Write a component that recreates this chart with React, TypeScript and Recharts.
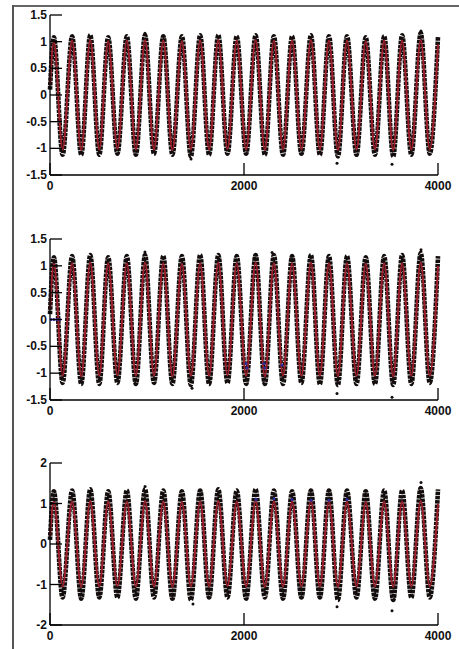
import { ComposedChart, Line, Scatter, XAxis, YAxis } from "recharts";

// x positions of the wave crests and troughs (same in all panels)
const peakX = [40, 228, 415, 600, 792, 980, 1168, 1360, 1548, 1735, 1925, 2120, 2308, 2496, 2690, 2876, 3062, 3255, 3445, 3630, 3822];
const troughX = [130, 322, 508, 695, 885, 1072, 1262, 1452, 1640, 1830, 2022, 2215, 2402, 2592, 2782, 2968, 3160, 3350, 3538, 3725, 3915];
const xTicks = [0, 2000, 4000];

// panel 1
const fit1Peaks = [1.0, 1.02, 1.03, 1.01, 1.02, 1.03, 1.02, 1.01, 1.02, 1.03, 1.02, 1.03, 1.02, 1.02, 1.03, 1.02, 1.02, 1.01, 1.02, 1.02, 1.03];
const fit1Troughs = [-1.02, -1.03, -1.02, -1.01, -1.02, -1.02, -1.03, -1.02, -1.02, -1.01, -1.02, -1.03, -1.02, -1.02, -1.02, -1.03, -1.02, -1.02, -1.03, -1.02, -1.02];
const dots1Peaks = [1.08, 1.1, 1.12, 1.08, 1.1, 1.12, 1.1, 1.1, 1.12, 1.12, 1.1, 1.12, 1.1, 1.1, 1.12, 1.1, 1.1, 1.08, 1.1, 1.12, 1.16];
const dots1Troughs = [-1.12, -1.12, -1.12, -1.1, -1.12, -1.1, -1.12, -1.15, -1.12, -1.1, -1.1, -1.12, -1.12, -1.1, -1.12, -1.15, -1.12, -1.12, -1.15, -1.12, -1.1];
const ends1 = { fitStart: 0.2, fitEnd: 0.95, dotStart: 0.1, dotEnd: 1.1 };
const outliers1 = [
  { x: 979, y: 1.16 }, { x: 1454, y: -1.2 }, { x: 2959, y: -1.28 }, { x: 3526, y: -1.3 }, { x: 3825, y: 1.2 },
];
const ticks1 = [-1.5, -1, -0.5, 0, 0.5, 1, 1.5];

// panel 2
const fit2Peaks = [1.04, 1.05, 1.06, 1.05, 1.05, 1.06, 1.05, 1.04, 1.05, 1.06, 1.05, 1.06, 1.05, 1.05, 1.06, 1.05, 1.05, 1.04, 1.05, 1.05, 1.06];
const fit2Troughs = [-1.05, -1.06, -1.05, -1.04, -1.05, -1.05, -1.06, -1.05, -1.05, -1.04, -1.05, -1.06, -1.05, -1.05, -1.05, -1.06, -1.05, -1.05, -1.06, -1.05, -1.05];
const dots2Peaks = [1.16, 1.18, 1.2, 1.16, 1.18, 1.2, 1.18, 1.18, 1.2, 1.2, 1.18, 1.2, 1.2, 1.18, 1.2, 1.18, 1.18, 1.16, 1.18, 1.2, 1.24];
const dots2Troughs = [-1.18, -1.2, -1.2, -1.18, -1.2, -1.18, -1.2, -1.22, -1.2, -1.18, -1.2, -1.2, -1.2, -1.18, -1.2, -1.22, -1.2, -1.2, -1.22, -1.2, -1.18];
const ends2 = { fitStart: 0.2, fitEnd: 1.0, dotStart: 0.1, dotEnd: 1.18 };
const outliers2 = [
  { x: 979, y: 1.26 }, { x: 1464, y: -1.28 }, { x: 2289, y: 1.25 }, { x: 2959, y: -1.38 }, { x: 3526, y: -1.45 }, { x: 3825, y: 1.3 },
];
const blue2 = [
  { x: 10, y: 0 }, { x: 40, y: 0 }, { x: 70, y: 0 }, { x: 100, y: 0 },
  { x: 2021, y: -0.82 }, { x: 2030, y: -0.9 }, { x: 2206, y: -0.82 }, { x: 2215, y: -0.9 }, { x: 2392, y: -0.85 },
];

// panel 3
const fit3Peaks = [1.04, 1.05, 1.06, 1.05, 1.05, 1.06, 1.05, 1.04, 1.05, 1.06, 1.05, 1.06, 1.05, 1.05, 1.06, 1.05, 1.05, 1.04, 1.05, 1.05, 1.06];
const fit3Troughs = [-1.05, -1.06, -1.05, -1.04, -1.05, -1.05, -1.06, -1.05, -1.05, -1.04, -1.05, -1.06, -1.05, -1.05, -1.05, -1.06, -1.05, -1.05, -1.06, -1.05, -1.05];
const dots3Peaks = [1.3, 1.32, 1.35, 1.3, 1.32, 1.35, 1.32, 1.3, 1.32, 1.35, 1.32, 1.35, 1.32, 1.3, 1.32, 1.32, 1.32, 1.3, 1.32, 1.32, 1.38];
const dots3Troughs = [-1.32, -1.35, -1.32, -1.32, -1.35, -1.32, -1.35, -1.38, -1.32, -1.32, -1.35, -1.32, -1.35, -1.32, -1.32, -1.38, -1.32, -1.35, -1.38, -1.32, -1.32];
const ends3 = { fitStart: 0.2, fitEnd: 1.0, dotStart: 0.1, dotEnd: 1.35 };
const outliers3 = [
  { x: 980, y: 1.42 }, { x: 1474, y: -1.48 }, { x: 2959, y: -1.55 }, { x: 3526, y: -1.65 }, { x: 3825, y: 1.52 },
];
const blue3 = [
  { x: 2124, y: 1.1 }, { x: 2309, y: 1.12 }, { x: 2495, y: 1.1 }, { x: 2691, y: 1.08 }, { x: 2876, y: 1.08 }, { x: 3062, y: 1.1 },
];
const ticks3 = [-2, -1, 0, 1, 2];

const buildWave = (start: number, peaks: number[], troughs: number[], end: number) => {
  const pts = [{ x: 0, y: start }];
  peakX.forEach((px, i) => {
    pts.push({ x: px, y: peaks[i] });
    pts.push({ x: troughX[i], y: troughs[i] });
  });
  pts.push({ x: 4000, y: end });
  return pts;
};

const W = 459;
const LEFT = 50;
const RIGHT = 438;
const font = { fontFamily: "'Liberation Sans', Arial, sans-serif", fontWeight: 700, fontSize: 12, fill: "#111" };

const makeYTick = () => (props: any) => {
  const { y, payload } = props;
  return (
    <g>
      <line x1={LEFT} x2={LEFT + 12} y1={y} y2={y} stroke="#000" strokeWidth={1.3} />
      <text x={LEFT - 3} y={y} dy={4} textAnchor="end" {...font}>
        {payload.value}
      </text>
    </g>
  );
};

const makeXTick = (axisY: number) => (props: any) => {
  const { x, payload } = props;
  return (
    <g>
      <line x1={x} x2={x} y1={axisY} y2={axisY - 12} stroke="#000" strokeWidth={1.3} />
      <text x={x} y={axisY + 15} textAnchor="middle" {...font}>
        {payload.value}
      </text>
    </g>
  );
};

const dotShape = (color: string) => (p: any) => <circle cx={p.cx} cy={p.cy} r={1.5} fill={color} />;

type PanelProps = {
  top: number;
  height: number;
  domain: [number, number];
  ticks: number[];
  fit: { x: number; y: number }[];
  dots: { x: number; y: number }[];
  outliers: { x: number; y: number }[];
  blue?: { x: number; y: number }[];
};

const Panel = ({ top, height, domain, ticks, fit, dots, outliers, blue }: PanelProps) => {
  const axisY = height - 20;
  return (
    <div style={{ position: "absolute", left: 0, top }}>
      <ComposedChart width={W} height={height} margin={{ top: 15, right: W - RIGHT, bottom: 0, left: 10 }}>
        <XAxis
          type="number"
          dataKey="x"
          domain={[0, 4000]}
          ticks={xTicks}
          height={20}
          tickLine={false}
          axisLine={{ stroke: "#000", strokeWidth: 1.3 }}
          tick={makeXTick(axisY)}
        />
        <YAxis
          type="number"
          dataKey="y"
          domain={domain}
          ticks={ticks}
          width={40}
          tickLine={false}
          allowDataOverflow
          axisLine={{ stroke: "#000", strokeWidth: 1.3 }}
          tick={makeYTick()}
        />
        <Line
          data={dots}
          dataKey="y"
          type="monotone"
          stroke="#140d0d"
          strokeWidth={4.6}
          strokeDasharray="3.5 0.8"
          dot={false}
          isAnimationActive={false}
        />
        <Scatter data={outliers} dataKey="y" shape={dotShape("#140d0d")} isAnimationActive={false} />
        {blue && <Scatter data={blue} dataKey="y" shape={dotShape("#2a2a9a")} isAnimationActive={false} />}
        <Line
          data={fit}
          dataKey="y"
          type="monotone"
          stroke="#9c1e2a"
          strokeWidth={2}
          dot={false}
          isAnimationActive={false}
        />
      </ComposedChart>
    </div>
  );
};

const App = () => {
  return (
    <div style={{ position: "absolute", left: 0, top: 0, width: W, height: 649, background: "#fff", overflow: "hidden" }}>
      <div style={{ position: "absolute", left: 12, top: 5, width: W - 12, height: 2, background: "#666" }} />
      <div style={{ position: "absolute", left: 12, top: 5, width: 2, height: 644, background: "#555" }} />
      <Panel
        top={0}
        height={195}
        domain={[-1.5, 1.5]}
        ticks={ticks1}
        fit={buildWave(ends1.fitStart, fit1Peaks, fit1Troughs, ends1.fitEnd)}
        dots={buildWave(ends1.dotStart, dots1Peaks, dots1Troughs, ends1.dotEnd)}
        outliers={outliers1}
      />
      <Panel
        top={224}
        height={196}
        domain={[-1.5, 1.5]}
        ticks={ticks1}
        fit={buildWave(ends2.fitStart, fit2Peaks, fit2Troughs, ends2.fitEnd)}
        dots={buildWave(ends2.dotStart, dots2Peaks, dots2Troughs, ends2.dotEnd)}
        outliers={outliers2}
        blue={blue2}
      />
      <Panel
        top={448}
        height={197}
        domain={[-2, 2]}
        ticks={ticks3}
        fit={buildWave(ends3.fitStart, fit3Peaks, fit3Troughs, ends3.fitEnd)}
        dots={buildWave(ends3.dotStart, dots3Peaks, dots3Troughs, ends3.dotEnd)}
        outliers={outliers3}
        blue={blue3}
      />
    </div>
  );
};

export default App;
